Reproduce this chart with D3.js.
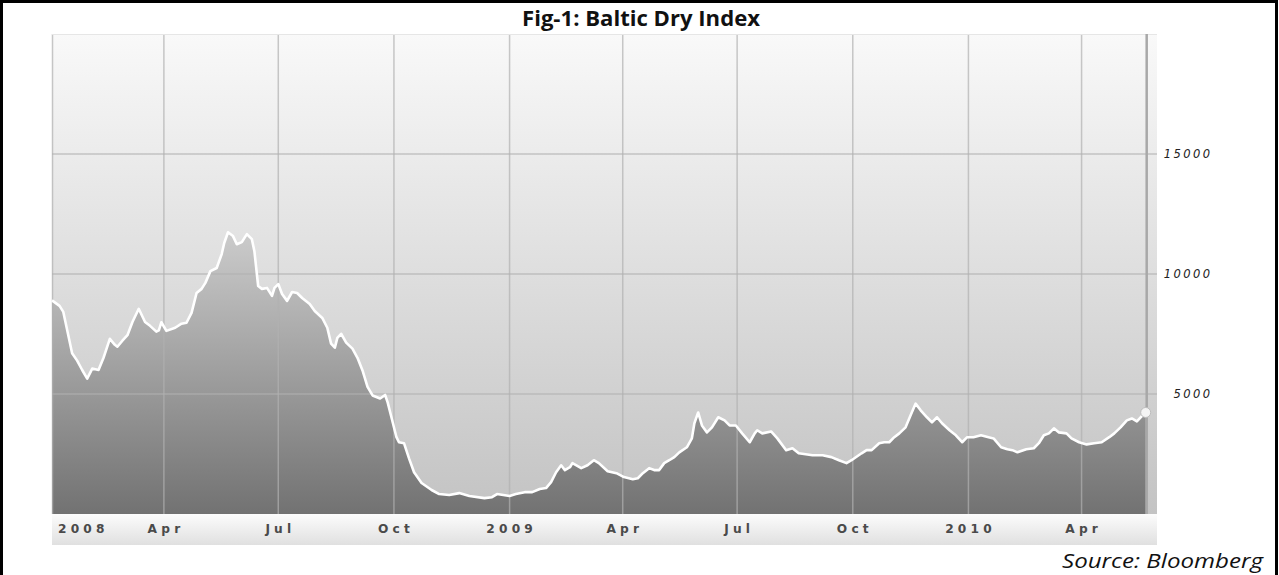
<!DOCTYPE html>
<html>
<head>
<meta charset="utf-8">
<script src="https://cdn.jsdelivr.net/npm/d3@7"></script>
<style>
  html, body { margin: 0; padding: 0; background: #ffffff; }
  svg { display: block; }
</style>
</head>
<body>
<svg id="chart" width="1279" height="575"></svg>
<script>
// Baltic Dry Index, daily closes (approximate), Jan 2008 – May 2010
const dates = [
  "2008-01-03","2008-01-09","2008-01-12","2008-01-19","2008-01-23","2008-01-27","2008-01-31",
  "2008-02-04","2008-02-09","2008-02-13","2008-02-18","2008-02-22","2008-02-24","2008-02-28",
  "2008-03-03","2008-03-07","2008-03-12","2008-03-17","2008-03-21","2008-03-26","2008-03-28","2008-03-30",
  "2008-04-03","2008-04-10","2008-04-15","2008-04-19","2008-04-23","2008-04-27",
  "2008-05-01","2008-05-04","2008-05-08","2008-05-13","2008-05-17","2008-05-19","2008-05-22","2008-05-26","2008-05-29",
  "2008-06-02","2008-06-06","2008-06-10","2008-06-12","2008-06-15","2008-06-18","2008-06-22","2008-06-26","2008-06-28",
  "2008-07-01","2008-07-04","2008-07-08","2008-07-12","2008-07-16","2008-07-20","2008-07-26","2008-07-30",
  "2008-08-05","2008-08-09","2008-08-12","2008-08-15","2008-08-17","2008-08-20","2008-08-24","2008-08-29",
  "2008-09-02","2008-09-06","2008-09-10","2008-09-14","2008-09-20","2008-09-24","2008-09-26","2008-09-29",
  "2008-10-03","2008-10-05","2008-10-09","2008-10-13","2008-10-17","2008-10-23","2008-10-31",
  "2008-11-06","2008-11-14","2008-11-22","2008-11-30","2008-12-12","2008-12-18","2008-12-22",
  "2009-01-01","2009-01-06","2009-01-13","2009-01-19","2009-01-25","2009-01-30",
  "2009-02-03","2009-02-07","2009-02-11","2009-02-14","2009-02-18","2009-02-20","2009-02-27",
  "2009-03-04","2009-03-09","2009-03-13","2009-03-20","2009-03-27",
  "2009-04-02","2009-04-09","2009-04-13","2009-04-17","2009-04-22","2009-04-26","2009-04-30",
  "2009-05-04","2009-05-08","2009-05-12","2009-05-16","2009-05-22","2009-05-26","2009-05-28","2009-05-31",
  "2009-06-03","2009-06-07","2009-06-11","2009-06-16","2009-06-21","2009-06-25","2009-06-30",
  "2009-07-05","2009-07-11","2009-07-15","2009-07-17","2009-07-21","2009-07-28",
  "2009-08-02","2009-08-09","2009-08-14","2009-08-19","2009-08-30",
  "2009-09-07","2009-09-14","2009-09-20","2009-09-26","2009-09-30",
  "2009-10-08","2009-10-12","2009-10-16","2009-10-22","2009-10-26","2009-10-30",
  "2009-11-03","2009-11-07","2009-11-12","2009-11-16","2009-11-20","2009-11-24","2009-11-29",
  "2009-12-03","2009-12-07","2009-12-11","2009-12-17","2009-12-22","2009-12-27","2009-12-31",
  "2010-01-05","2010-01-11","2010-01-17","2010-01-21","2010-01-27",
  "2010-02-01","2010-02-05","2010-02-09","2010-02-16","2010-02-22","2010-02-26",
  "2010-03-02","2010-03-06","2010-03-10","2010-03-14","2010-03-20","2010-03-24","2010-03-30",
  "2010-04-05","2010-04-11","2010-04-17","2010-04-23","2010-04-27",
  "2010-05-02","2010-05-07","2010-05-11","2010-05-15","2010-05-18","2010-05-22"
];
const values = [
  8900, 8670, 8420, 6700, 6390, 6000, 5640,
  6060, 6000, 6510, 7300, 7050, 6970, 7220,
  7450, 8000, 8550, 8000, 7840, 7600, 7650, 7990,
  7630, 7760, 7930, 7970, 8380, 9210,
  9380, 9630, 10120, 10250, 10830, 11290, 11740, 11580, 11240,
  11330, 11660, 11450, 10950, 9500, 9380, 9420, 9090, 9420,
  9580, 9170, 8880, 9250, 9210, 9000, 8750, 8460,
  8170, 7760, 7100, 6930, 7340, 7510, 7140, 6890,
  6510, 5980, 5300, 4940, 4810, 4960, 4650, 4030,
  3200, 2990, 2950, 2320, 1740, 1290, 1000,
  830, 790, 870, 750, 660, 700, 830,
  750, 830, 910, 910, 1040, 1080,
  1330, 1740, 2030, 1830, 1950, 2120, 1910,
  2030, 2240, 2120, 1780, 1700,
  1540, 1450, 1490, 1700, 1910, 1830, 1830,
  2120, 2240, 2370, 2570, 2780, 3150, 3780, 4230,
  3690, 3400, 3610, 4030, 3900, 3690, 3690,
  3360, 2990, 3360, 3490, 3360, 3440,
  3150, 2660, 2740, 2530, 2450,
  2450, 2370, 2240, 2120, 2240,
  2530, 2660, 2660, 2950, 2990, 2990,
  3200, 3360, 3610, 4110, 4600, 4320, 4030,
  3820, 4030, 3780, 3490, 3280, 2990, 3200,
  3200, 3280, 3200, 3150, 2780,
  2700, 2660, 2570, 2700, 2740, 2950,
  3280, 3360, 3570, 3400, 3360, 3150, 2990,
  2900, 2950, 2990, 3200, 3360,
  3610, 3900, 3980, 3860, 4030, 4230
];
const yTicks = [5000, 10000, 15000];
const xTickDates = ["2008-01-01","2008-04-01","2008-07-01","2008-10-01","2009-01-01",
                    "2009-04-01","2009-07-01","2009-10-01","2010-01-01","2010-04-01"];
const xTickLabels = ["2008","Apr","Jul","Oct","2009","Apr","Jul","Oct","2010","Apr"];
const titleText = "Fig-1: Baltic Dry Index";
const sourceText = "Source: Bloomberg";

const parse = d3.timeParse("%Y-%m-%d");
const series = dates.map((d, i) => ({ date: parse(d), value: values[i] }));

const svg = d3.select("#chart");
const plot = { left: 52, right: 1157, top: 34, bottom: 514 };

const x = d3.scaleTime()
  .domain([parse("2008-01-03"), parse("2010-05-31")])
  .range([plot.left, plot.right]);
const y = d3.scaleLinear()
  .domain([0, 20000])
  .range([plot.bottom, plot.top]);

// gradients
const defs = svg.append("defs");
function vGrad(id, y1, y2, stops) {
  const g = defs.append("linearGradient").attr("id", id)
    .attr("gradientUnits", "userSpaceOnUse")
    .attr("x1", 0).attr("x2", 0).attr("y1", y1).attr("y2", y2);
  stops.forEach(s => g.append("stop").attr("offset", s[0]).attr("stop-color", s[1]));
}
vGrad("bgGrad", plot.top, plot.bottom, [[0, "#f9f9f9"], [1, "#c3c3c3"]]);
vGrad("areaGrad", plot.top, plot.bottom, [[0, "#f0f0f0"], [0.408, "#cccccc"], [1, "#727272"]]);
vGrad("axisGrad", plot.bottom, plot.bottom + 31, [[0, "#fcfcfc"], [1, "#e0e0e0"]]);

// outer frame (top, left, right)
svg.append("path")
  .attr("d", "M1.5,575 L1.5,1.5 L1276.5,1.5 L1276.5,575")
  .attr("fill", "none").attr("stroke", "#000").attr("stroke-width", 3);

// title
svg.append("text")
  .attr("x", 641).attr("y", 26)
  .attr("text-anchor", "middle")
  .attr("font-family", "'Open Sans', 'Liberation Sans', sans-serif")
  .attr("font-weight", "bold").attr("font-size", 20.5)
  .attr("textLength", 238).attr("lengthAdjust", "spacingAndGlyphs")
  .attr("fill", "#111")
  .text(titleText);

// plot background
svg.append("rect")
  .attr("x", plot.left).attr("y", plot.top)
  .attr("width", plot.right - plot.left).attr("height", plot.bottom - plot.top)
  .attr("fill", "url(#bgGrad)");

// area under the index
const area = d3.area()
  .x(d => x(d.date)).y0(y(0)).y1(d => y(d.value));
svg.append("path").datum(series)
  .attr("d", area).attr("fill", "url(#areaGrad)");

// grid
const grid = svg.append("g").attr("stroke", "#b0b0b0").attr("stroke-opacity", 0.7).attr("stroke-width", 1.5);
grid.selectAll("line.h").data(yTicks).join("line")
  .attr("x1", plot.left).attr("x2", plot.right)
  .attr("y1", d => y(d)).attr("y2", d => y(d));
const tickDates = xTickDates.map(parse);
grid.selectAll("line.v").data(tickDates.filter(d => x(d) > plot.left + 2)).join("line")
  .attr("x1", d => x(d)).attr("x2", d => x(d))
  .attr("y1", plot.top).attr("y2", plot.bottom);
grid.append("line")
  .attr("x1", plot.left + 0.5).attr("x2", plot.left + 0.5)
  .attr("y1", plot.top).attr("y2", plot.bottom);
svg.append("line")
  .attr("x1", plot.left).attr("x2", plot.right)
  .attr("y1", plot.top + 0.5).attr("y2", plot.top + 0.5)
  .attr("stroke", "#e6e6e6").attr("stroke-width", 1);

// last-value marker line
const last = series[series.length - 1];
svg.append("line")
  .attr("x1", x(last.date) + 1).attr("x2", x(last.date) + 1)
  .attr("y1", plot.top).attr("y2", plot.bottom)
  .attr("stroke", "#a8a8a8").attr("stroke-width", 2.5);

// index line
const line = d3.line()
  .x(d => x(d.date)).y(d => y(d.value));
svg.append("path").datum(series)
  .attr("d", line).attr("fill", "none")
  .attr("stroke", "#ffffff").attr("stroke-width", 2.6)
  .attr("stroke-linejoin", "round");

svg.append("circle")
  .attr("cx", x(last.date)).attr("cy", y(last.value)).attr("r", 5)
  .attr("fill", "#f4f4f4").attr("stroke", "#bdbdbd").attr("stroke-width", 1);

// x-axis band and labels
svg.append("rect")
  .attr("x", plot.left).attr("y", plot.bottom)
  .attr("width", plot.right - plot.left).attr("height", 31)
  .attr("fill", "url(#axisGrad)");
const xLs = 4.2;
const xLabels = svg.append("g")
  .attr("font-family", "'DejaVu Sans', Verdana, sans-serif")
  .attr("font-weight", "bold").attr("font-size", 12.2)
  .attr("letter-spacing", xLs).attr("fill", "#4a4a4a")
  .attr("text-anchor", "middle");
xLabels.selectAll("text").data(tickDates).join("text")
  .attr("y", 533)
  .attr("dx", xLs / 2)
  .text((d, i) => xTickLabels[i])
  .attr("x", function(d) {
    const w = this.getComputedTextLength() - xLs;
    return Math.max(x(d), plot.left + 6 + w / 2);
  });

// right-hand value labels
const yLs = 2.4;
svg.append("g")
  .attr("font-family", "'DejaVu Sans', Verdana, sans-serif")
  .attr("font-style", "italic").attr("font-size", 11.5)
  .attr("letter-spacing", yLs).attr("fill", "#222")
  .attr("text-anchor", "end")
  .selectAll("text").data(yTicks).join("text")
  .attr("x", 1210 + yLs).attr("y", d => y(d) + 4)
  .text(d => d);

// source note
svg.append("text")
  .attr("x", 1263).attr("y", 568)
  .attr("text-anchor", "end")
  .attr("font-family", "'Open Sans', 'Liberation Sans', sans-serif")
  .attr("font-style", "italic").attr("font-size", 20)
  .attr("textLength", 201).attr("lengthAdjust", "spacingAndGlyphs")
  .attr("fill", "#111")
  .text(sourceText);
</script>
</body>
</html>
